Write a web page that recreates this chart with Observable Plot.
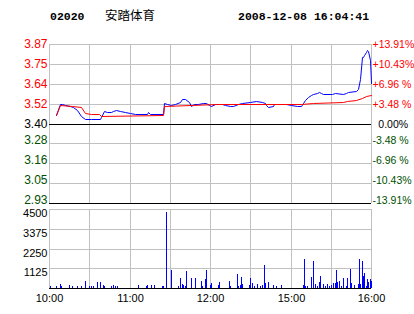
<!DOCTYPE html>
<html><head><meta charset="utf-8">
<script src="https://cdn.jsdelivr.net/npm/d3@7"></script>
<script src="https://cdn.jsdelivr.net/npm/@observablehq/plot@0.6"></script>
<style>
body{margin:0;background:#fff;}
#wrap{position:relative;width:414px;height:314px;overflow:hidden;background:#fff;}
.h{position:absolute;line-height:14px;white-space:pre;color:#000;}
.pane{position:absolute;left:0;}
</style></head><body>
<div id="wrap">
  <div class="h" id="code" style="left:50px;top:10px;font:bold 11.5px 'Liberation Mono',monospace;line-height:14px;"></div>
  <div class="h" id="name" style="left:105px;top:8px;font:12.5px 'Noto Sans CJK SC',sans-serif;line-height:14px;"></div>
  <div class="h" id="stamp" style="left:238px;top:10px;font:bold 11.5px 'Liberation Mono',monospace;line-height:14px;"></div>
  <div class="pane" id="price" style="top:40px;"></div>
  <div class="pane" id="vol" style="top:205px;"></div>
</div>
<script>
const stockCode = "02020";
const stockName = "安踏体育";
const stamp = "2008-12-08 16:04:41";
const prevClose = 3.40;
const pctTicks = [13.91, 10.43, 6.96, 3.48, 0, -3.48, -6.96, -10.43, -13.91];
const priceLabels = ["3.87","3.75","3.64","3.52","3.40","3.28","3.16","3.05","2.93"];
const pctLabels = ["+13.91%","+10.43%","+6.96 %","+3.48 %","\u00a0\u00a00.00%","-3.48 %","-6.96 %","-10.43%","-13.91%"];
const timeTicks = [0, 60, 120, 180, 240];
const timeLabels = ["10:00","11:00","12:00","15:00","16:00"];
const gridTimes = [0, 30, 60, 90, 120, 150, 180, 210, 240];
const volTicks = [1125, 2250, 3375, 4500];

// minutes of trading since 10:00 (lunch break removed)
const priceMin = [5,8,10,12,16,18,21,24,27,31,38,39,41,43,46,48,50,53,57,60,64,73,74,75,85,86,88,91,94,98,99,101,104,106,108,111,115,117,119,121,124,129,131,135,137,141,144,150,154,159,161,162,163,167,168,177,180,185,188,189,191,193,195,197,200,201,203,204,211,213,219,221,223,229,230,232,233,234,235,236,237,238,239,240];
const priceVal = [3.450,3.514,3.514,3.509,3.505,3.499,3.480,3.444,3.425,3.425,3.427,3.437,3.476,3.466,3.466,3.476,3.480,3.474,3.466,3.464,3.456,3.456,3.466,3.456,3.454,3.523,3.515,3.509,3.515,3.529,3.543,3.543,3.525,3.505,3.515,3.515,3.519,3.523,3.509,3.505,3.514,3.514,3.509,3.503,3.503,3.514,3.523,3.527,3.531,3.527,3.523,3.509,3.499,3.503,3.514,3.514,3.509,3.505,3.503,3.519,3.539,3.558,3.568,3.573,3.584,3.588,3.579,3.573,3.573,3.579,3.574,3.582,3.588,3.592,3.608,3.667,3.795,3.795,3.805,3.824,3.840,3.829,3.775,3.638];
const avgMin = [5,8,17,24,27,31,37,39,85,86,125,188,197,219,222,229,233,236,240];
const avgVal = [3.450,3.509,3.505,3.499,3.460,3.458,3.454,3.444,3.448,3.503,3.514,3.514,3.523,3.529,3.535,3.539,3.553,3.563,3.568];
const volMin = [1,5,8,9,15,17,21,24,27,30,31,33,36,38,40,41,46,48,49,51,66,72,73,76,78,84,85,87,91,96,98,99,100,101,102,106,109,113,114,116,117,120,121,126,127,134,135,140,141,142,143,144,149,150,151,153,155,157,159,160,161,163,167,169,173,189,190,191,192,195,197,198,200,201,202,204,206,207,209,210,212,213,214,215,216,218,219,221,222,224,225,227,230,231,232,233,234,235,236,237,238,239,240];
const volVal = [130,130,250,130,190,130,130,130,420,130,130,130,360,360,190,130,130,190,130,130,190,130,190,190,190,130,130,4350,1050,130,590,250,190,130,990,590,590,420,130,530,1050,190,300,190,360,420,130,820,130,190,650,250,190,590,300,130,250,130,190,1330,300,360,190,130,190,190,1670,130,130,650,1560,250,130,360,700,250,130,250,130,190,300,300,1050,360,420,130,590,130,590,1100,300,190,250,1670,250,1560,700,870,130,530,360,530,420];

document.getElementById("code").textContent = stockCode;
document.getElementById("name").textContent = stockName;
document.getElementById("stamp").textContent = stamp;

const pos = pctTicks.map(p => prevClose * (1 + p / 100));
const tickRows = pos.map((p, i) => ({p, left: priceLabels[i], right: pctLabels[i], s: Math.sign(pctTicks[i])}));
const up = tickRows.filter(d => d.s > 0), flat = tickRows.filter(d => d.s === 0), down = tickRows.filter(d => d.s < 0);
const grayRows = tickRows.filter((d, i) => i !== 4 && i !== 8);
const priceData = priceMin.map((t, i) => ({t, v: priceVal[i]}));
const avgData = avgMin.map((t, i) => ({t, v: avgVal[i]}));
const volData = volMin.map((t, i) => ({t, v: volVal[i]}));
const GRID = "#c0c0c0", RED = "#ff0000", GREEN = "#005000";
const style = {fontFamily: "'Liberation Sans', Arial, sans-serif", fontSize: "11px", background: "transparent", overflow: "visible"};

const lab = (rows, fill, side, dy = 0) => side === "left"
  ? Plot.text(rows, {y: "p", text: "left", frameAnchor: "left", textAnchor: "end", dx: -2, dy, fill, fontSize: 12})
  : Plot.text(rows, {y: "p", text: "right", frameAnchor: "right", textAnchor: "start", dx: 1, dy, fill, fontSize: 10.5});

const price = Plot.plot({
  width: 414, height: 170, marginTop: 4, marginBottom: 7, marginLeft: 49, marginRight: 43,
  style,
  x: {domain: [0, 240], round: true, axis: null},
  y: {domain: [pos[8], pos[0]], round: true, axis: null},
  marks: [
    Plot.ruleX(gridTimes, {stroke: GRID}),
    Plot.ruleY(grayRows, {y: "p", stroke: GRID}),
    Plot.ruleY([pos[4], pos[8]], {stroke: "#000"}),
    Plot.line(priceData, {x: "t", y: "v", stroke: "#0000ff", strokeWidth: 1}),
    Plot.line(avgData, {x: "t", y: "v", stroke: RED, strokeWidth: 1}),
    lab(up, RED, "left"), lab(flat, "#000", "left"), lab(down, GREEN, "left", -3.5),
    lab(up, RED, "right"), lab(flat, "#000", "right"), lab(down, GREEN, "right", -3)
  ]
});
document.getElementById("price").appendChild(price);

const vol = Plot.plot({
  width: 414, height: 109, marginTop: 4, marginBottom: 26, marginLeft: 49, marginRight: 43,
  style,
  x: {domain: [0, 240], round: true, axis: null},
  y: {domain: [0, 4500], round: true, axis: null},
  marks: [
    Plot.ruleX(gridTimes, {stroke: GRID}),
    Plot.ruleY(volTicks, {stroke: GRID}),
    Plot.ruleX(volData, {x: "t", y1: 0, y2: "v", stroke: "#0000ff", strokeWidth: 1}),
    Plot.ruleY([0], {stroke: "#000"}),
    Plot.text(volTicks, {y: d => d, text: d => String(d), frameAnchor: "left", textAnchor: "end", dx: -2, dy: 3.5, fontSize: 11, fill: "#000"}),
    Plot.axisX(timeTicks, {anchor: "bottom", label: null, tickSize: 0, tickPadding: 6, tickFormat: d => timeLabels[timeTicks.indexOf(d)], fontSize: 11, fill: "#000"})
  ]
});
document.getElementById("vol").appendChild(vol);
</script>
</body></html>
